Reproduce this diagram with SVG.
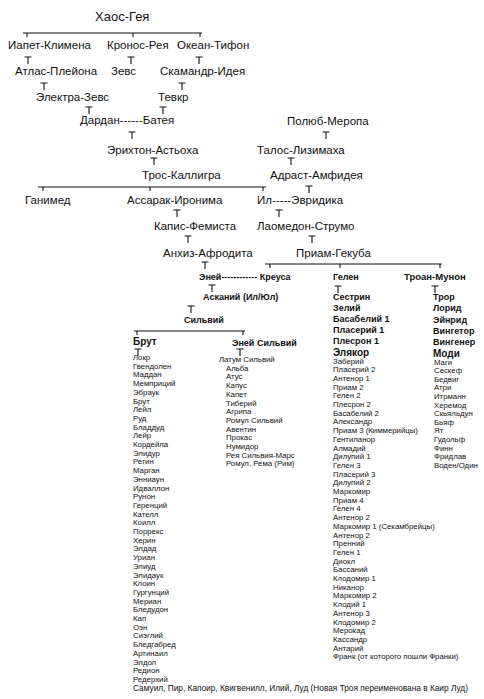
<svg xmlns="http://www.w3.org/2000/svg" xmlns:xlink="http://www.w3.org/1999/xlink" width="484" height="699" viewBox="0 0 484 699">
<style>
text{font-family:"Liberation Sans",Arial,sans-serif;fill:#111}
.n{font-size:11.5px}
.h{font-size:13px}
.b{font-size:9px;font-weight:bold}
.bt{font-size:9.5px;font-weight:bold}
.bb{font-size:10px;font-weight:bold}
.s{font-size:7.8px}
.w{font-size:8.3px}
.c{fill:none;stroke:#111;stroke-width:1.1}
</style>
<defs>
<path id="t" d="M-3.5 0H3.5M0 0V7" class="c"/>
</defs>
<rect width="484" height="699" fill="#fff"/>
<g id="connectors">
<path class="c" d="M23 33H202M27 33v4M133 33v4M200 33v4"/>
<path class="c" d="M38 187H266M43 187v4M150 187v4M263 187v4"/>
<path class="c" d="M265 264H442M270 264v4M340 264v4M440 264v4"/>
<path class="c" d="M134 331H245M137 331v4M243 331v4"/>
<use href="#t" x="28" y="57"/><use href="#t" x="131" y="57"/><use href="#t" x="199" y="57"/>
<use href="#t" x="44" y="83"/><use href="#t" x="182" y="83"/>
<use href="#t" x="89" y="107"/><use href="#t" x="163" y="107"/>
<use href="#t" x="132" y="132"/><use href="#t" x="326" y="132"/>
<use href="#t" x="154" y="158"/><use href="#t" x="291" y="158"/>
<use href="#t" x="309" y="186"/>
<use href="#t" x="177" y="210"/><use href="#t" x="279" y="210"/>
<use href="#t" x="188" y="236"/><use href="#t" x="312" y="236"/>
<use href="#t" x="205" y="262"/>
<use href="#t" x="212" y="285"/><use href="#t" x="338" y="286"/><use href="#t" x="435" y="286"/>
<use href="#t" x="191" y="306"/>
<use href="#t" x="138" y="349"/><use href="#t" x="240" y="349"/>
</g>
<g id="n-haos"><text class="h" x="95" y="21">Хаос-Гея</text></g>
<g id="n-iapet"><text class="n" x="8" y="49">Иапет-Климена</text></g>
<g id="n-kronos"><text class="n" x="107" y="49">Кронос-Рея</text></g>
<g id="n-okean"><text class="n" x="177" y="49">Океан-Тифон</text></g>
<g id="n-atlas"><text class="n" x="15" y="75">Атлас-Плейона</text></g>
<g id="n-zevs"><text class="n" x="111" y="75">Зевс</text></g>
<g id="n-skamandr"><text class="n" x="160" y="75">Скамандр-Идея</text></g>
<g id="n-elektra"><text class="n" x="36" y="101">Электра-Зевс</text></g>
<g id="n-tevkr"><text class="n" x="158" y="101">Тевкр</text></g>
<g id="n-dardan"><text class="n" x="80" y="124">Дардан------Батея</text></g>
<g id="n-polyub"><text class="n" x="287" y="125">Полюб-Меропа</text></g>
<g id="n-erihton"><text class="n" x="107" y="154">Эрихтон-Астьоха</text></g>
<g id="n-talos"><text class="n" x="257" y="154">Талос-Лизимаха</text></g>
<g id="n-tros"><text class="n" x="142" y="179">Трос-Каллигра</text></g>
<g id="n-adrast"><text class="n" x="270" y="179">Адраст-Амфидея</text></g>
<g id="n-ganimed"><text class="n" x="25" y="204">Ганимед</text></g>
<g id="n-assarak"><text class="n" x="127" y="204">Ассарак-Иронима</text></g>
<g id="n-il"><text class="n" x="257" y="204">Ил-----Эвридика</text></g>
<g id="n-kapis"><text class="n" x="154" y="230">Капис-Фемиста</text></g>
<g id="n-laomedon"><text class="n" x="257" y="230">Лаомедон-Струмо</text></g>
<g id="n-anhiz"><text class="n" x="163" y="257">Анхиз-Афродита</text></g>
<g id="n-priam"><text class="n" x="296" y="257">Приам-Гекуба</text></g>
<g id="n-enei"><text class="b" x="199" y="280">Эней------------ Креуса</text></g>
<g id="n-gelen"><text class="b" x="333" y="280">Гелен</text></g>
<g id="n-troan"><text class="bt" x="404" y="280">Троан-Мунон</text></g>
<g id="n-askanii"><text class="b" x="203" y="300">Асканий (Ил/Юл)</text></g>
<g id="n-silvii"><text class="b" x="184" y="323">Сильвий</text></g>
<g id="n-brut"><text class="bb" x="133" y="345">Брут</text></g>
<g id="n-enei-silvii"><text class="b" x="232" y="346">Эней Сильвий</text></g>
<g id="n-brut-list" class="s">
<text x="133" y="360">Локр</text>
<text x="133" y="368.7">Гвендолен</text>
<text x="133" y="377.4">Маддан</text>
<text x="133" y="386.1">Мемприций</text>
<text x="133" y="394.8">Эбраук</text>
<text x="133" y="403.5">Брут</text>
<text x="133" y="412.2">Лейл</text>
<text x="133" y="420.9">Руд</text>
<text x="133" y="429.6">Бладдуд</text>
<text x="133" y="438.3">Лейр</text>
<text x="133" y="447">Кордейла</text>
<text x="133" y="455.7">Элидур</text>
<text x="133" y="464.4">Регин</text>
<text x="133" y="473.1">Марган</text>
<text x="133" y="481.8">Энниаун</text>
<text x="133" y="490.5">Идваллон</text>
<text x="133" y="499.2">Рунон</text>
<text x="133" y="507.9">Геренций</text>
<text x="133" y="516.6">Кателл</text>
<text x="133" y="525.3">Коилл</text>
<text x="133" y="534">Поррекс</text>
<text x="133" y="542.7">Херин</text>
<text x="133" y="551.4">Элдад</text>
<text x="133" y="560.1">Уриан</text>
<text x="133" y="568.8">Элиуд</text>
<text x="133" y="577.5">Элидаук</text>
<text x="133" y="586.2">Клоин</text>
<text x="133" y="594.9">Гургунций</text>
<text x="133" y="603.6">Мериан</text>
<text x="133" y="612.3">Бледудон</text>
<text x="133" y="621">Кап</text>
<text x="133" y="629.7">Оэн</text>
<text x="133" y="638.4">Сиэглий</text>
<text x="133" y="647.1">Бледгабред</text>
<text x="133" y="655.8">Артинаил</text>
<text x="133" y="664.5">Элдол</text>
<text x="133" y="673.2">Редион</text>
<text x="133" y="681.9">Редерхий</text>
<text class="w" x="133" y="690.6">Самуил, Пир, Капоир, Квигвенилл, Илий, Луд (Новая Троя переименована в Каир Луд)</text>
</g>
<g id="n-enei-list" class="s">
<text x="219" y="362">Латум Сильвий</text>
<text x="226" y="370.7">Альба</text>
<text x="226" y="379.4">Атус</text>
<text x="226" y="388.1">Капус</text>
<text x="226" y="396.8">Капет</text>
<text x="226" y="405.5">Тиберий</text>
<text x="226" y="414.2">Агрипа</text>
<text x="226" y="422.9">Ромул Сильвий</text>
<text x="226" y="431.6">Авентин</text>
<text x="226" y="440.3">Прокас</text>
<text x="226" y="449">Нумидор</text>
<text x="226" y="457.7">Рея Сильвия-Марс</text>
<text x="226" y="466.4">Ромул, Рема (Рим)</text>
</g>
<g id="n-gelen-list">
<text class="b" x="333" y="300">Сестрин</text>
<text class="b" x="333" y="311">Зелий</text>
<text class="b" x="333" y="322">Басабелий 1</text>
<text class="b" x="333" y="333">Пласерий 1</text>
<text class="b" x="333" y="344">Плесрон 1</text>
<text class="bb" x="333" y="356">Элякор</text>
<g class="s">
<text x="333" y="363.5">Заберий</text>
<text x="333" y="372.2">Пласерий 2</text>
<text x="333" y="380.9">Антенор 1</text>
<text x="333" y="389.6">Приам 2</text>
<text x="333" y="398.3">Гелен 2</text>
<text x="333" y="407">Плесрон 2</text>
<text x="333" y="415.7">Басабелий 2</text>
<text x="333" y="424.4">Александр</text>
<text x="333" y="433.1">Приам 3 (Киммерийцы)</text>
<text x="333" y="441.8">Гентиланор</text>
<text x="333" y="450.5">Алмадий</text>
<text x="333" y="459.2">Дилупий 1</text>
<text x="333" y="467.9">Гелен 3</text>
<text x="333" y="476.6">Пласерий 3</text>
<text x="333" y="485.3">Дилупий 2</text>
<text x="333" y="494">Маркомир</text>
<text x="333" y="502.7">Приам 4</text>
<text x="333" y="511.4">Гелен 4</text>
<text x="333" y="520.1">Антенор 2</text>
<text x="333" y="528.8">Маркомир 1 (Секамбрейцы)</text>
<text x="333" y="537.5">Антенор 2</text>
<text x="333" y="546.2">Пренний</text>
<text x="333" y="554.9">Гелен 1</text>
<text x="333" y="563.6">Диокл</text>
<text x="333" y="572.3">Бассаний</text>
<text x="333" y="581">Клодомир 1</text>
<text x="333" y="589.7">Никанор</text>
<text x="333" y="598.4">Маркомир 2</text>
<text x="333" y="607.1">Клодий 1</text>
<text x="333" y="615.8">Антенор 3</text>
<text x="333" y="624.5">Клодомир 2</text>
<text x="333" y="633.2">Мерокад</text>
<text x="333" y="641.9">Кассандр</text>
<text x="333" y="650.6">Антарий</text>
<text x="333" y="659.3">Франк (от которого пошли Франки)</text>
</g>
</g>
<g id="n-troan-list">
<text class="b" x="433" y="300">Трор</text>
<text class="b" x="433" y="311">Лорид</text>
<text class="b" x="433" y="323">Эйнрид</text>
<text class="b" x="433" y="334">Вингетор</text>
<text class="b" x="433" y="345">Вингенер</text>
<text class="bb" x="433" y="357">Моди</text>
<g class="s">
<text x="434" y="364.5">Маги</text>
<text x="434" y="373.1">Сескеф</text>
<text x="434" y="381.7">Бедвиг</text>
<text x="434" y="390.3">Атри</text>
<text x="434" y="398.9">Итрманн</text>
<text x="434" y="407.5">Херемод</text>
<text x="434" y="416.1">Скьяльдун</text>
<text x="434" y="424.7">Бьяф</text>
<text x="434" y="433.3">Ят</text>
<text x="434" y="441.9">Гудольф</text>
<text x="434" y="450.5">Финн</text>
<text x="434" y="459.1">Фридлав</text>
<text x="434" y="467.7">Воден/Один</text>
</g>
</g>
</svg>
